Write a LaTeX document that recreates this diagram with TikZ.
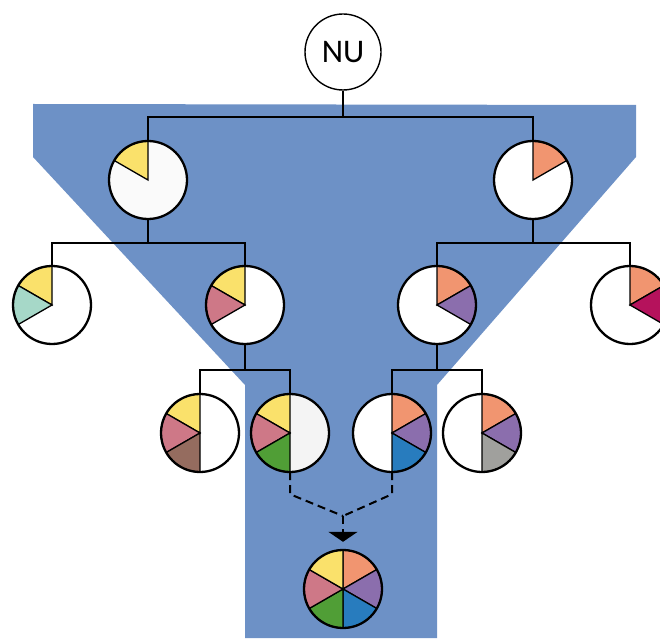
\documentclass[tikz,border=0pt]{standalone}
\usepackage{fontspec}
\setmainfont{Carlito}
\usetikzlibrary{arrows.meta}

\definecolor{bgblue}{HTML}{6D91C6}
\definecolor{cyellow}{HTML}{FAE16B}
\definecolor{corange}{HTML}{F19570}
\definecolor{crose}{HTML}{CE7887}
\definecolor{cpurple}{HTML}{8B6EAD}
\definecolor{cteal}{HTML}{A6D8C8}
\definecolor{cmagenta}{HTML}{B5125C}
\definecolor{cbrown}{HTML}{956C5F}
\definecolor{cgreen}{HTML}{509E36}
\definecolor{cblue}{HTML}{287CBE}
\definecolor{cgray}{HTML}{A0A09D}
\definecolor{clight}{HTML}{F4F4F4}

\newcommand{\pieslice}[4]{\filldraw[fill=#4,slice] (#1.center) -- ++(#2:39) arc[start angle=#2,end angle=#3,radius=39] -- cycle;}

\begin{document}
\begin{tikzpicture}[x=1pt,y=1pt,
    pie/.style={circle,fill=white,minimum size=78pt,inner sep=0pt},
    rim/.style={line width=2.3pt},
    slice/.style={line width=1.3pt},
    conn/.style={line width=2pt}]

    \useasboundingbox (0,0) rectangle (660,638);

    % funnel
    \fill[bgblue] (33,534) -- (636,533) -- (636,481) -- (437,253) -- (437,0)
        -- (245,0) -- (245,253) -- (33,481) -- cycle;

    \node[circle,draw,fill=white,line width=1.4pt,minimum size=76pt,inner sep=0pt,
        font=\fontsize{33}{38}\selectfont] (NU) at (343,586) {NU};

    \node[pie,fill=white!98!black] (A) at (148,458) {};
    \node[pie] (B) at (533,458) {};

    \node[pie] (A1) at (52,333) {};
    \node[pie] (A2) at (245,333) {};
    \node[pie] (B1) at (437,333) {};
    \node[pie] (B2) at (630,333) {};

    \node[pie] (C1) at (200,205) {};
    \node[pie,fill=clight] (C2) at (290,205) {};
    \node[pie] (C3) at (392,205) {};
    \node[pie] (C4) at (482,205) {};

    \node[pie] (F) at (343,49) {};

    \coordinate (j1) at (343,521);
    \coordinate (j2) at (148,395);
    \coordinate (j3) at (533,395);
    \coordinate (j4) at (245,268);
    \coordinate (j5) at (437,268);
    \coordinate (m) at (343,122);

    % tree
    \draw[conn] (NU) -- (j1);
    \draw[conn] (A.north) |- (j1) -| (B.north);
    \draw[conn] (A) -- (j2);
    \draw[conn] (A1.north) |- (j2) -| (A2.north);
    \draw[conn] (B) -- (j3);
    \draw[conn] (B1.north) |- (j3) -| (B2.north);
    \draw[conn] (A2) -- (j4);
    \draw[conn] (C1.north) |- (j4) -| (C2.north);
    \draw[conn] (B1) -- (j5);
    \draw[conn] (C3.north) |- (j5) -| (C4.north);

    % slices
    \pieslice{A}{90}{150}{cyellow}
    \pieslice{B}{90}{30}{corange}

    \pieslice{A1}{90}{150}{cyellow}
    \pieslice{A1}{150}{210}{cteal}
    \pieslice{A2}{90}{150}{cyellow}
    \pieslice{A2}{150}{210}{crose}
    \pieslice{B1}{90}{30}{corange}
    \pieslice{B1}{30}{-30}{cpurple}
    \pieslice{B2}{90}{30}{corange}
    \pieslice{B2}{30}{-30}{cmagenta}

    \pieslice{C1}{90}{150}{cyellow}
    \pieslice{C1}{150}{210}{crose}
    \pieslice{C1}{210}{270}{cbrown}
    \pieslice{C2}{90}{150}{cyellow}
    \pieslice{C2}{150}{210}{crose}
    \pieslice{C2}{210}{270}{cgreen}
    \pieslice{C3}{90}{30}{corange}
    \pieslice{C3}{30}{-30}{cpurple}
    \pieslice{C3}{-30}{-90}{cblue}
    \pieslice{C4}{90}{30}{corange}
    \pieslice{C4}{30}{-30}{cpurple}
    \pieslice{C4}{-30}{-90}{cgray}

    \pieslice{F}{90}{30}{corange}
    \pieslice{F}{30}{-30}{cpurple}
    \pieslice{F}{-30}{-90}{cblue}
    \pieslice{F}{-90}{-150}{cgreen}
    \pieslice{F}{210}{150}{crose}
    \pieslice{F}{150}{90}{cyellow}

    \foreach \n in {A,B,A1,A2,B1,B2,C1,C2,C3,C4,F}
        \draw[rim] (\n.center) circle (39);

    % merge
    \draw[conn,dash pattern=on 8pt off 5pt] (C2.south) -- ++(0,-22) -- (m);
    \draw[conn,dash pattern=on 8pt off 5pt] (C3.south) -- ++(0,-22) -- (m);
    \draw[conn,dash pattern=on 8pt off 5pt,-{Triangle[width=29pt,length=10pt]}]
        (m) -- ([yshift=8pt]F.north);

\end{tikzpicture}
\end{document}
